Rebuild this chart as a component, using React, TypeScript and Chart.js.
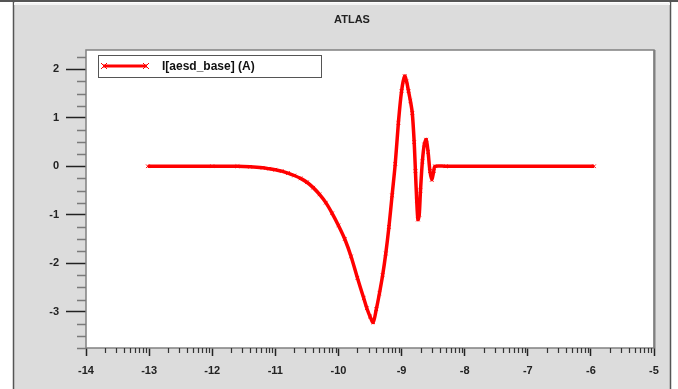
import { useEffect, useRef } from 'react';
import { Chart, registerables } from 'chart.js';

Chart.register(...registerables);

const chartTitle = 'ATLAS';
const seriesLabel = 'I[aesd_base] (A)';

// time axis (x) and current (y) samples of the trace
const timeValues = [
  -13.02, -12.0, -11.6, -11.4, -11.2, -11.1, -11.0, -10.9, -10.8, -10.7,
  -10.6, -10.5, -10.4, -10.3, -10.2, -10.1, -10.0, -9.9, -9.8, -9.7,
  -9.6, -9.55, -9.5, -9.45, -9.4, -9.35, -9.3, -9.25, -9.2, -9.15,
  -9.1, -9.05, -9.0, -8.95, -8.92, -8.89, -8.86, -8.83, -8.8, -8.78,
  -8.76, -8.74, -8.72, -8.7, -8.67, -8.64, -8.61, -8.58, -8.55, -8.52,
  -8.49, -8.47, -8.3, -5.95,
];
const currentValues = [
  0, 0, 0, -0.01, -0.03, -0.05, -0.07, -0.1, -0.14, -0.19,
  -0.25, -0.33, -0.44, -0.58, -0.75, -0.97, -1.22, -1.5, -1.86, -2.3,
  -2.72, -2.93, -3.1, -3.22, -2.95, -2.62, -2.25, -1.8, -1.25, -0.6,
  0.05, 0.9, 1.55, 1.86, 1.75, 1.55, 1.35, 1.1, 0.5, -0.1,
  -0.7, -1.1, -1.0, -0.5, 0.1, 0.45, 0.55, 0.3, -0.1, -0.28,
  -0.1, 0, 0, 0,
];

const xTickValues = [-14, -13, -12, -11, -10, -9, -8, -7, -6, -5];
const yTickValues = [-3, -2, -1, 0, 1, 2];
const xRange = [-14, -5];
const yRange = [-3.75, 2.4];
const yMinorStep = 0.25;

const RED = '#ff0000';
const PANEL = '#dcdcdc';
const FONT = '"Liberation Sans", Arial, sans-serif';

const framePlugin = {
  id: 'frame',
  beforeDraw(chart: any) {
    const { ctx, width, height, chartArea: a } = chart;
    ctx.save();
    ctx.fillStyle = '#ffffff';
    ctx.fillRect(0, 0, width, height);
    ctx.fillStyle = PANEL;
    ctx.fillRect(13, 3, 657, height - 3);
    // outer panel edges
    ctx.strokeStyle = '#555555';
    ctx.lineWidth = 2;
    ctx.beginPath();
    ctx.moveTo(0, 1);
    ctx.lineTo(width, 1);
    ctx.stroke();
    ctx.lineWidth = 1.5;
    ctx.beginPath();
    ctx.moveTo(13.5, 0);
    ctx.lineTo(13.5, height);
    ctx.moveTo(670.5, 0);
    ctx.lineTo(670.5, height);
    ctx.stroke();
    ctx.strokeStyle = '#f4f4f4';
    ctx.lineWidth = 2;
    ctx.beginPath();
    ctx.moveTo(14, 4);
    ctx.lineTo(670, 4);
    ctx.stroke();
    // plot area
    ctx.fillStyle = '#ffffff';
    ctx.fillRect(a.left, a.top, a.right - a.left, a.bottom - a.top);
    // title
    ctx.fillStyle = '#222222';
    ctx.font = `bold 11px ${FONT}`;
    ctx.textAlign = 'center';
    ctx.textBaseline = 'middle';
    ctx.fillText(chartTitle, 352, 20);
    ctx.restore();
  },
  afterDatasetsDraw(chart: any) {
    const { ctx, chartArea: a } = chart;
    ctx.save();
    // plot box
    ctx.strokeStyle = '#808080';
    ctx.lineWidth = 1.5;
    ctx.strokeRect(a.left, a.top, a.right - a.left, a.bottom - a.top);
    ctx.lineWidth = 2;
    ctx.beginPath();
    ctx.moveTo(a.right + 0.5, a.top);
    ctx.lineTo(a.right + 0.5, a.bottom);
    ctx.stroke();

    // legend
    const lx = a.left + 12;
    const ly = a.top + 5;
    const lw = 223;
    const lh = 22;
    ctx.fillStyle = '#ffffff';
    ctx.fillRect(lx, ly, lw, lh);
    ctx.strokeStyle = '#555555';
    ctx.lineWidth = 1;
    ctx.strokeRect(lx + 0.5, ly + 0.5, lw, lh);
    const my = ly + 11;
    ctx.strokeStyle = RED;
    ctx.lineWidth = 3;
    ctx.beginPath();
    ctx.moveTo(lx + 5, my);
    ctx.lineTo(lx + 49, my);
    ctx.stroke();
    ctx.lineWidth = 1;
    for (const px of [lx + 6, lx + 48]) {
      ctx.beginPath();
      ctx.moveTo(px - 3, my - 3);
      ctx.lineTo(px + 3, my + 3);
      ctx.moveTo(px - 3, my + 3);
      ctx.lineTo(px + 3, my - 3);
      ctx.stroke();
    }
    ctx.fillStyle = '#111111';
    ctx.font = `bold 12px ${FONT}`;
    ctx.textAlign = 'left';
    ctx.textBaseline = 'middle';
    ctx.fillText(chart.data.datasets[0].label, lx + 64, my + 1);
    ctx.restore();
  },
  afterDraw(chart: any) {
    const { ctx, chartArea: a } = chart;
    const xs = chart.scales.x;
    const ys = chart.scales.y;
    ctx.save();
    ctx.lineWidth = 1.2;
    // x minor ticks, decade-style spacing between whole numbers
    ctx.strokeStyle = '#333333';
    ctx.beginPath();
    for (let k = xRange[0]; k < xRange[1]; k++) {
      for (let m = 2; m <= 9; m++) {
        const px = Math.round(xs.getPixelForValue(k + Math.log10(m))) + 0.5;
        ctx.moveTo(px, a.bottom);
        ctx.lineTo(px, a.bottom + 5);
      }
    }
    ctx.stroke();
    // y minor ticks
    ctx.strokeStyle = '#7a7a7a';
    ctx.lineWidth = 1.5;
    ctx.beginPath();
    const first = Math.ceil(yRange[0] / yMinorStep);
    const last = Math.floor(yRange[1] / yMinorStep);
    for (let i = first; i <= last; i++) {
      const v = i * yMinorStep;
      if (Math.abs(v - Math.round(v)) < 1e-9) continue;
      const py = Math.round(ys.getPixelForValue(v)) + 0.5;
      ctx.moveTo(a.left - 9, py);
      ctx.lineTo(a.left, py);
    }
    ctx.stroke();
    ctx.restore();
  },
};

export default function App() {
  const canvasRef = useRef<HTMLCanvasElement | null>(null);

  useEffect(() => {
    document.body.style.margin = '0';
    const canvas = canvasRef.current;
    if (!canvas) return;
    const points = timeValues.map((t, i) => ({ x: t, y: currentValues[i] }));
    const chart = new Chart(canvas, {
      type: 'line',
      data: {
        datasets: [
          {
            label: seriesLabel,
            data: points,
            borderColor: RED,
            backgroundColor: RED,
            borderWidth: 3.5,
            pointStyle: 'crossRot',
            pointRadius: 2.5,
            pointBorderWidth: 1,
            pointBorderColor: RED,
            tension: 0.3,
            fill: false,
          },
        ],
      },
      options: {
        animation: false,
        responsive: false,
        devicePixelRatio: 1,
        layout: { padding: { left: 0, top: 50, right: 24, bottom: 0 } },
        plugins: {
          legend: { display: false },
          title: { display: false },
          tooltip: { enabled: false },
        },
        scales: {
          x: {
            type: 'linear',
            min: xRange[0],
            max: xRange[1],
            afterBuildTicks: (scale: any) => {
              scale.ticks = xTickValues.map((v) => ({ value: v }));
            },
            afterFit: (scale: any) => {
              scale.height = 41;
            },
            border: { display: false },
            grid: {
              drawOnChartArea: false,
              drawTicks: true,
              tickLength: 8,
              tickWidth: 1.5,
              tickColor: '#222222',
            },
            ticks: {
              autoSkip: false,
              maxRotation: 0,
              padding: 8,
              color: '#222222',
              font: { family: FONT, size: 11, weight: 'bold' },
              callback: (v: any) => String(v),
            },
          },
          y: {
            type: 'linear',
            min: yRange[0],
            max: yRange[1],
            afterBuildTicks: (scale: any) => {
              scale.ticks = yTickValues.map((v) => ({ value: v }));
            },
            afterFit: (scale: any) => {
              scale.width = 86;
            },
            border: { display: false },
            grid: {
              drawOnChartArea: false,
              drawTicks: true,
              tickLength: 20,
              tickWidth: 1.5,
              tickColor: '#222222',
            },
            ticks: {
              padding: 7,
              color: '#222222',
              font: { family: FONT, size: 11, weight: 'bold' },
              callback: (v: any) => String(v),
            },
          },
        },
      },
      plugins: [framePlugin],
    });
    return () => chart.destroy();
  }, []);

  return (
    <div style={{ position: 'fixed', left: 0, top: 0, width: 678, height: 389 }}>
      <canvas ref={canvasRef} width={678} height={389} style={{ display: 'block' }} />
    </div>
  );
}
